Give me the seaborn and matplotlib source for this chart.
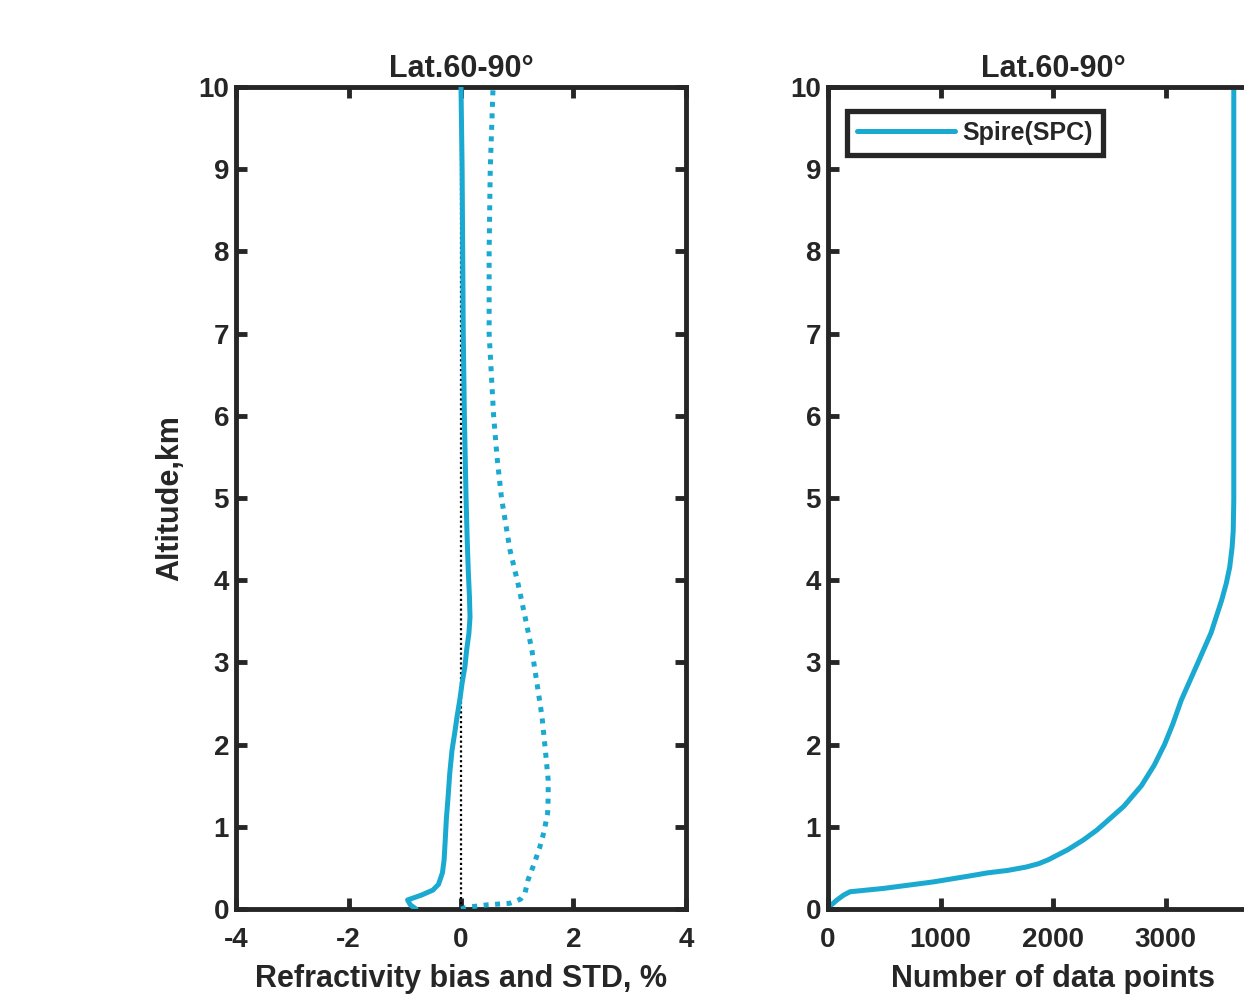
import numpy as np
import pandas as pd
import matplotlib
matplotlib.use("Agg")
import matplotlib.pyplot as plt
import seaborn as sns

# ---- data ----
alt_bias = [0.0, 0.05, 0.11, 0.17, 0.23, 0.3, 0.44, 0.6, 0.84, 1.1, 1.36, 1.65, 1.93, 2.15, 2.34, 2.55,
            2.75, 2.95, 3.15, 3.35, 3.55, 3.8, 4.1, 4.5, 5.0, 6.0, 7.0, 8.0, 9.0, 10.0]
bias = [-0.8, -0.9, -0.95, -0.7, -0.5, -0.4, -0.33, -0.3, -0.28, -0.26, -0.23, -0.2, -0.16, -0.11, -0.07, -0.02,
        0.02, 0.07, 0.10, 0.14, 0.16, 0.15, 0.13, 0.11, 0.09, 0.06, 0.04, 0.03, 0.02, 0.0]

alt_std = [0.0, 0.02, 0.05, 0.07, 0.12, 0.2, 0.35, 0.55, 0.75, 0.95, 1.17, 1.36, 1.57, 1.93, 2.34, 2.75,
           3.15, 3.55, 3.97, 4.37, 5.0, 5.5, 6.0, 7.0, 8.0, 9.0, 10.0]
std = [0.0, 0.10, 0.46, 0.87, 1.06, 1.14, 1.19, 1.30, 1.40, 1.48, 1.54, 1.55, 1.55, 1.50, 1.44, 1.35,
       1.26, 1.14, 1.01, 0.87, 0.72, 0.64, 0.58, 0.50, 0.50, 0.52, 0.57]

alt_n = [0.0, 0.05, 0.11, 0.17, 0.21, 0.25, 0.33, 0.40, 0.44, 0.47, 0.51, 0.55, 0.6, 0.72, 0.84, 0.96, 1.08,
         1.25, 1.5, 1.75, 2.0, 2.25, 2.54, 2.94, 3.36, 3.76, 3.96, 4.16, 4.4, 4.6, 4.98, 6.0, 8.0, 10.0]
npts = [0, 30, 80, 140, 196, 491, 938, 1250, 1420, 1600, 1760, 1870, 1960, 2130, 2270, 2390, 2490,
        2630, 2786, 2900, 2991, 3065, 3140, 3270, 3405, 3500, 3540, 3571, 3592, 3602, 3607, 3607, 3607, 3607]

zero_x = [0.0, 0.0]
zero_alt = [0.0, 10.0]

title_txt = "Lat.60-90\u00b0"
left_xticks = [-4, -2, 0, 2, 4]
right_xticks = [0, 1000, 2000, 3000]
yticks = list(range(0, 11))
legend_label = "Spire(SPC)"

# ---- style ----
sns.set_theme(style="white")
plt.rcParams['font.family'] = ['Liberation Sans', 'DejaVu Sans']
plt.rcParams['font.weight'] = 'bold'
dark = '#262626'
cyan = '#1aa9d0'

fig = plt.figure(figsize=(12.44, 9.98), dpi=100)
W, H = 1244, 998
axL = fig.add_axes([236 / W, 1 - 909 / H, 450 / W, 822 / H])
axR = fig.add_axes([828 / W, 1 - 909 / H, 450 / W, 822 / H])

# left panel
sns.lineplot(x=zero_x, y=zero_alt, ax=axL, color='black', lw=1.6,
             linestyle=(0, (1, 1.2)), sort=False, estimator=None, zorder=1)
sns.lineplot(x=bias, y=alt_bias, ax=axL, color=cyan, lw=3.6,
             sort=False, estimator=None, zorder=3)
l = sns.lineplot(x=std, y=alt_std, ax=axL, color=cyan, lw=3.6,
                 sort=False, estimator=None, zorder=3)
l.lines[-1].set_linestyle((0, (1, 1.3)))
l.lines[-1].set_dash_capstyle('butt')
for ln in axL.lines:
    ln.set_solid_joinstyle('round')

axL.set_xlim(-4, 4)
axL.set_ylim(0, 10)
axL.set_xticks(left_xticks)
axL.set_xticklabels([str(v) for v in left_xticks])
axL.set_xlabel("Refractivity bias and STD, %", fontsize=22, fontweight='bold', color=dark, labelpad=8)
axL.set_ylabel("Altitude,km", fontsize=22, fontweight='bold', color=dark, labelpad=9)

# right panel
sns.lineplot(x=npts, y=alt_n, ax=axR, color=cyan, lw=3.6,
             sort=False, estimator=None, label=legend_label)
for ln in axR.lines:
    ln.set_solid_joinstyle('round')
axR.set_xlim(0, 4000)
axR.set_ylim(0, 10)
axR.set_xticks(right_xticks + [4000])
axR.set_xticklabels([str(v) for v in right_xticks] + [""])
axR.set_xlabel("Number of data points", fontsize=22, fontweight='bold', color=dark, labelpad=8)
axR.set_ylabel("")

leg = axR.legend(loc='upper left', bbox_to_anchor=(19 / 450, 1 - 24 / 822), handlelength=3.9,
                 prop={'weight': 'bold', 'size': 18}, fancybox=False, framealpha=1,
                 borderpad=0.4, handletextpad=0.3, borderaxespad=0)
leg.get_frame().set_edgecolor(dark)
leg.get_frame().set_linewidth(3.8)
for t in leg.get_texts():
    t.set_color(dark)

for ax in (axL, axR):
    ax.set_yticks(yticks)
    ax.set_yticklabels([str(v) for v in yticks])
    ax.set_title(title_txt, fontsize=22, fontweight='bold', color=dark, pad=7)
    for s in ax.spines.values():
        s.set_visible(True)
        s.set_color(dark)
        s.set_linewidth(3.5)
    ax.tick_params(axis='both', which='major', direction='in', length=8, width=3.5,
                   top=True, right=True, bottom=True, left=True, colors=dark,
                   labelsize=20, pad=5)
    ax.tick_params(axis='x', pad=13)
    for lab in ax.get_xticklabels() + ax.get_yticklabels():
        lab.set_fontweight('bold')
    ax.grid(False)

fig.savefig("out.png", dpi=100)
